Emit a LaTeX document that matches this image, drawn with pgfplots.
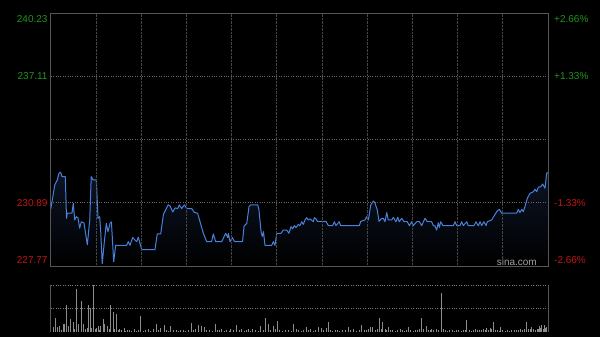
\documentclass[border=0pt]{standalone}
\usepackage{pgfplots}
\pgfplotsset{compat=1.18}
\usepackage{pgfplotstable}
\usepackage{fontspec}
\setmainfont{Liberation Sans}

\definecolor{upgreen}{RGB}{30,150,30}
\definecolor{downred}{RGB}{195,20,20}
\definecolor{linecol}{RGB}{72,128,218}
\definecolor{fillcol}{RGB}{12,20,36}
\definecolor{framecol}{RGB}{85,85,85}
\definecolor{gridh}{RGB}{105,105,105}
\definecolor{gridv}{RGB}{70,70,70}
\definecolor{gridvol}{RGB}{120,120,120}
\definecolor{volbar}{RGB}{140,140,140}
\definecolor{sinagray}{RGB}{160,160,160}

\pgfplotstableread{
x y
0 230.56
2.7 231.76
4.4 232.01
5.5 232.34
6.6 232.39
7.5 232.17
9.7 232.17
10.5 230.12
11.0 230.37
14.1 230.37
15.0 230.86
15.9 230.04
17.0 230.20
18.1 230.14
19.2 229.63
20.3 229.95
22.1 229.89
24.3 228.81
25.9 230.04
26.9 232.17
28.1 232.01
30.3 232.01
31.4 230.12
32.5 230.20
33.2 229.46
34.2 227.89
35.6 228.97
36.9 229.87
38.0 229.46
39.4 229.87
40.3 229.94
41.8 227.98
43.1 228.79
50.4 228.79
51.5 228.97
52.6 228.79
54.4 229.17
55.9 229.05
57.1 228.97
58.1 229.19
60.4 228.58
69.2 228.58
70.7 229.35
73.0 229.35
74.8 230.31
78.0 230.78
79.2 230.73
81.0 230.43
82.5 230.63
84.3 230.60
85.3 230.78
86.9 230.60
88.7 230.78
90.3 230.60
93.6 230.60
95.3 230.41
97.5 230.37
99.1 229.95
101.3 229.38
103.5 228.97
106.8 228.97
107.9 229.35
109.5 228.97
113.5 228.97
116.1 229.38
117.5 229.17
117.9 229.38
119.0 228.97
120.5 229.17
122.0 228.97
127.3 228.97
128.3 229.74
130.1 229.87
131.6 230.69
132.6 230.78
137.4 230.78
138.2 230.53
139.6 229.46
140.4 229.22
141.2 229.46
142.2 228.79
146.7 228.79
147.7 228.97
148.8 228.79
150.0 229.38
152.8 229.38
154.4 229.54
156.6 229.54
158.1 229.38
159.5 229.71
160.6 229.60
161.7 229.76
162.8 229.66
164.3 229.82
165.4 229.76
166.6 229.95
167.6 229.82
168.8 230.04
169.9 230.15
170.9 230.04
172.1 230.09
174.3 229.95
174.9 230.15
176.1 230.09
176.9 229.97
182.7 229.97
184.2 229.76
187.1 229.76
188.2 229.95
189.3 229.76
191.5 229.95
192.4 229.76
204.8 229.76
205.7 229.97
208.6 230.04
209.7 230.20
210.8 230.04
212.4 230.78
214.1 230.97
215.2 230.87
216.7 230.53
217.9 229.97
219.7 230.12
220.7 230.12
221.8 229.95
223.0 230.40
224.0 230.04
226.3 230.04
227.4 230.17
229.1 229.95
230.3 230.17
231.3 229.95
232.9 230.12
234.5 229.95
236.6 229.95
238.0 229.76
239.6 229.95
240.6 229.76
242.9 229.95
244.6 229.95
246.2 229.76
247.3 229.95
248.4 230.12
249.9 229.95
252.8 229.95
253.9 229.76
255.0 229.74
256.1 229.54
257.2 229.90
257.9 229.67
258.8 229.95
260.3 229.76
267.2 229.76
268.3 229.95
269.4 229.76
271.6 229.76
272.7 229.95
273.8 229.76
276.1 229.95
277.1 229.76
280.9 229.76
282.2 229.95
283.7 229.76
284.9 229.95
286.0 229.76
287.5 229.95
288.9 229.76
289.7 229.95
292.6 230.04
296.0 230.45
297.7 230.56
299.3 230.37
309.2 230.37
310.3 230.56
311.4 230.40
312.6 230.56
313.6 230.45
314.7 230.69
316.3 231.11
318.1 231.35
320.3 231.43
321.4 231.55
322.5 231.43
323.6 231.65
325.2 231.68
326.5 231.81
328.0 231.60
329.1 232.34
330 232.37
}\price

\pgfplotstableread{
x v
0 81
1.7 11
3.1 29
4.4 11
6.0 13
7.2 5
8.2 17
9.3 17
10.6 57
11.9 13
13.3 27
14.8 21
16 6
17.0 91
18.6 17
20.3 66
21.4 17
23.0 6
24.2 9
25.2 57
26.5 50
27.2 8
28.1 100
29.6 6
30.5 9
31.4 13
32.3 5
33.2 13
34.7 27
35.8 17
37.6 13
38.6 6
39.8 57
41.3 43
42.4 7
43.5 38
44.8 5
45.8 7
47.2 4
48.6 9
49.8 3
50.8 5
52.3 4
53.8 3
55.3 7
56.6 3
57.9 5
59.7 34
61.2 3
62.8 4
64.6 6
66.2 3
67.9 6
70.1 17
71.5 4
73.0 9
75.2 15
76.8 5
78.2 3
79.6 13
81.5 4
83.3 5
84.8 3
86.3 5
88.0 4
89.5 3
91.2 5
93.3 20
94.8 4
96.3 6
97.7 15
99.9 13
101.7 11
103.5 4
105.2 5
107.2 3
109.2 17
110.8 4
112.2 5
113.2 6
115 3
116.8 4
118.4 3
119.4 7
121.2 4
123.2 15
125 4
126.5 7
128.2 3
129.6 4
130.9 6
132.3 3
133.6 6
135.5 4
137.5 3
139.4 13
140.8 4
142.4 29
144.2 17
145.8 5
147.5 13
149 6
150.4 23
152 4
154 3
155.8 4
157.5 5
159.5 3
161.2 17
163 6
164.5 4
166.3 3
167.8 5
169.4 11
171 4
172.5 6
174 3
175.8 5
177.6 11
179.8 8
181.2 4
182.7 9
184.2 21
185.8 5
187.2 3
188.7 5
190.2 4
191.8 3
193.5 5
195.5 4
197.5 11
199 4
200.8 6
202.5 3
204.5 4
206.4 15
208 5
209.5 4
211 6
212.4 11
213.7 11
215.3 5
216.5 6
217.9 29
219.1 7
220.3 21
221.8 6
223 5
224.0 11
225.5 4
227 5
228.6 3
230.2 4
231.8 6
233.4 4
235 3
236.3 5
237.3 10
238.8 4
240.5 3
242 5
243.5 4
244.8 6
246.2 29
247.6 6
249.0 12
250.6 5
251.7 4
252.8 6
254.2 5
255.7 6
257.2 4
259.0 84
260.5 6
261.8 4
263.2 3
264.8 5
266.3 4
267.8 3
269.4 4
270.8 5
272.3 3
273.8 4
275 5
276.1 26
277.5 5
279 3
280.3 4
281.6 6
283 4
284.5 5
285.8 4
287.2 6
288.3 5
289.3 8
290.4 5
291.5 8
292.5 6
293.7 21
295 5
296.3 4
297.5 3
298.6 11
300 4
301.5 3
303 4
304.5 3
306 4
307.5 5
309 4
310.2 5
311.4 6
312.7 5
314 6
315.9 21
317.2 7
318.2 6
319.2 11
320.5 6
321.5 5
322.7 7
323.5 6
324.2 13
325.0 8
325.8 15
326.6 7
327.3 15
328.2 8
329.2 11
}\vol

\begin{document}
\begin{tikzpicture}[x=1pt,y=1pt]
\useasboundingbox (0,0) rectangle (600,337);
\fill[black] (0,0) rectangle (600,337);
\begin{axis}[
  name=main,
  at={(50.7pt,71pt)}, anchor=south west,
  scale only axis, width=497.3pt, height=253pt,
  xmin=0, xmax=330, ymin=227.77, ymax=240.23,
  xtick={30,60,...,300}, ytick={230.89,234,237.11},
  xticklabels={}, yticklabels={},
  major tick length=0pt,
  xmajorgrids, ymajorgrids,
  x grid style={densely dotted, line width=0.6pt, color=gridv},
  y grid style={dotted, line width=0.6pt, color=gridh},
  axis line style={color=framecol, line width=0.8pt},
  axis on top,
  clip mode=individual,
  font=\fontsize{10}{12}\selectfont,
]
\addplot[draw=none, no markers, top color=fillcol, bottom color=black]
  table[x=x, y=y] {\price} -- (axis cs:330,227.77) -- (axis cs:0,227.77) -- cycle;
\addplot[no markers, color=linecol, line width=1pt, line join=round] table[x=x, y=y] {\price};
\node[anchor=east, inner sep=0pt, text=upgreen, xshift=-3pt, yshift=-6pt] at (axis cs:0,240.23) {240.23};
\node[anchor=east, inner sep=0pt, text=upgreen, xshift=-3pt] at (axis cs:0,237.11) {237.11};
\node[anchor=east, inner sep=0pt, text=downred, xshift=-3pt] at (axis cs:0,230.89) {230.89};
\node[anchor=east, inner sep=0pt, text=downred, xshift=-3pt, yshift=6pt] at (axis cs:0,227.77) {227.77};
\node[anchor=west, inner sep=0pt, text=upgreen, xshift=6pt, yshift=-6pt] at (axis cs:330,240.23) {+2.66\%};
\node[anchor=west, inner sep=0pt, text=upgreen, xshift=6pt] at (axis cs:330,237.11) {+1.33\%};
\node[anchor=west, inner sep=0pt, text=downred, xshift=6pt] at (axis cs:330,230.89) {-1.33\%};
\node[anchor=west, inner sep=0pt, text=downred, xshift=6pt, yshift=6pt] at (axis cs:330,227.77) {-2.66\%};
\node[anchor=east, inner sep=0pt, text=sinagray, xshift=-11pt, yshift=4.5pt] at (axis cs:330,227.77) {sina.com};
\end{axis}
\begin{axis}[
  at={(50.7pt,5pt)}, anchor=south west,
  scale only axis, width=497.3pt, height=47pt,
  xmin=0, xmax=330, ymin=0, ymax=100,
  xtick=\empty, ytick={50,100}, yticklabels={},
  major tick length=0pt,
  ymajorgrids,
  y grid style={dotted, line width=0.7pt, color=gridvol},
  axis line style={draw=none},
  clip=false,
]
\addplot[ycomb, no markers, color=volbar, line width=0.7pt] table[x=x, y=v] {\vol};
\draw[color=framecol, line width=0.8pt] (rel axis cs:0,0) -- (rel axis cs:0,1);
\draw[color=framecol, line width=0.8pt] (rel axis cs:1,0) -- (rel axis cs:1,1);
\end{axis}
\end{tikzpicture}
\end{document}
